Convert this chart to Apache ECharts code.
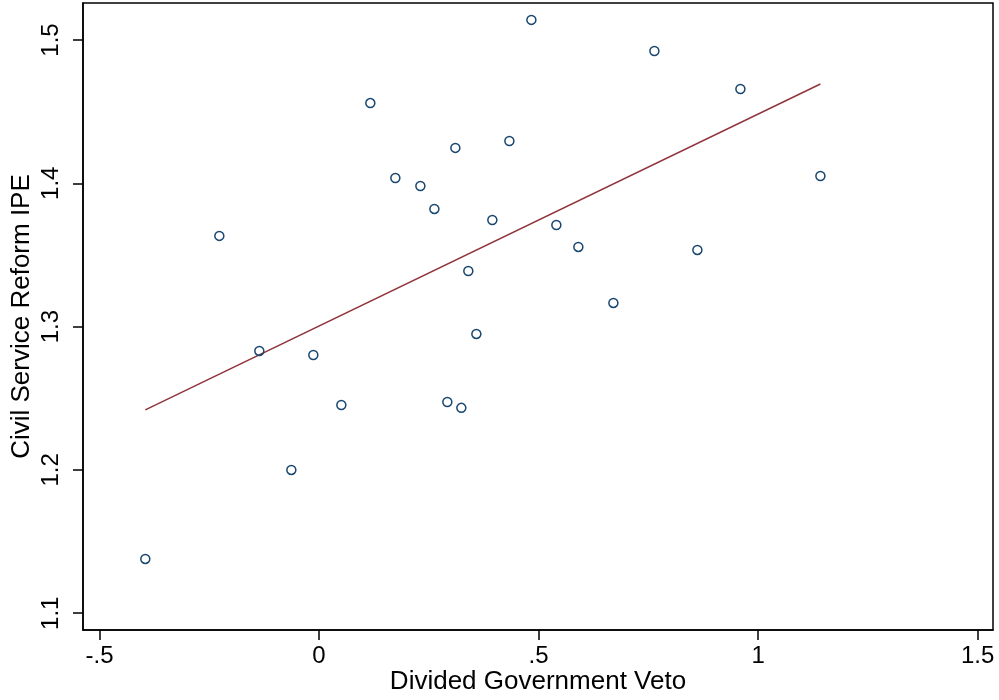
<!DOCTYPE html>
<html><head><meta charset="utf-8">
<script src="https://cdn.jsdelivr.net/npm/echarts@6/dist/echarts.min.js"></script>
<style>html,body{margin:0;padding:0;background:#fff}#c{width:999px;height:700px}</style>
</head><body><div id="c"></div>
<script>
var vetoX = [-0.3957,-0.2271,-0.136,-0.0631,-0.013,0.0508,0.1168,0.1738,0.2308,0.2627,0.3105,0.2922,0.3241,0.34,0.3583,0.3947,0.4335,0.4836,0.5405,0.5906,0.6704,0.7638,0.8617,0.9597,1.1419];
var ipeY = [1.1379,1.3633,1.283,1.2,1.2802,1.2453,1.456,1.4037,1.3981,1.3821,1.4247,1.2474,1.2433,1.3388,1.2949,1.3744,1.4295,1.514,1.3709,1.3556,1.3165,1.4923,1.3535,1.4658,1.4051];
var fitX = [-0.3957, 1.1419];
var fitY = [1.2419, 1.4693];
var xTicks = [-0.5, 0, 0.5, 1, 1.5];
var xTickLabels = ['-.5', '0', '.5', '1', '1.5'];
var yTicks = [1.1, 1.2, 1.3, 1.4, 1.5];
var yTickLabels = ['1.1', '1.2', '1.3', '1.4', '1.5'];

var pts = vetoX.map(function(x,i){return [x, ipeY[i]];});
var fit = fitX.map(function(x,i){return [x, fitY[i]];});
function lab(ticks, labels){return function(v){for(var i=0;i<ticks.length;i++){if(Math.abs(ticks[i]-v)<1e-6)return labels[i];}return '';};}
var font = 'Liberation Sans, Arial, sans-serif';
var chart = echarts.init(document.getElementById('c'), null, {renderer:'canvas'});
chart.setOption({
  animation:false,
  backgroundColor:'#fff',
  grid:{left:83,right:6,top:3,bottom:70,containLabel:false,outerBoundsMode:'none',show:true,borderColor:'#000',borderWidth:1.5},
  xAxis:{type:'value',min:-0.5376,max:1.535,
    name:'Divided Government Veto',nameLocation:'middle',nameGap:39,nameMoveOverlap:false,
    nameTextStyle:{fontFamily:font,fontSize:26,color:'#000'},
    axisLine:{show:true,onZero:false,lineStyle:{color:'#000',width:1.5}},
    axisTick:{show:true,length:10,lineStyle:{color:'#000',width:1.5},customValues:xTicks},
    axisLabel:{fontFamily:font,fontSize:24,color:'#000',margin:14,customValues:xTicks,formatter:lab(xTicks,xTickLabels)},
    splitLine:{show:false}},
  yAxis:{type:'value',min:1.0883,max:1.5258,
    name:'Civil Service Reform IPE',nameLocation:'middle',nameGap:48,nameMoveOverlap:false,
    nameTextStyle:{fontFamily:font,fontSize:26,color:'#000'},
    axisLine:{show:true,onZero:false,lineStyle:{color:'#000',width:1.5}},
    axisTick:{show:true,length:10,lineStyle:{color:'#000',width:1.5},customValues:yTicks},
    axisLabel:{fontFamily:font,fontSize:24,color:'#000',margin:20,rotate:90,customValues:yTicks,formatter:lab(yTicks,yTickLabels)},
    splitLine:{show:false}},
  series:[
    {type:'line',data:fit,showSymbol:false,symbol:'none',z:2,
      lineStyle:{color:'#90353b',width:1.5}},
    {type:'scatter',data:pts,symbol:'circle',symbolSize:9,z:3,
      itemStyle:{color:'rgba(255,255,255,0)',borderColor:'#1a476f',borderWidth:1.5,opacity:1}}
  ]
});
</script></body></html>
